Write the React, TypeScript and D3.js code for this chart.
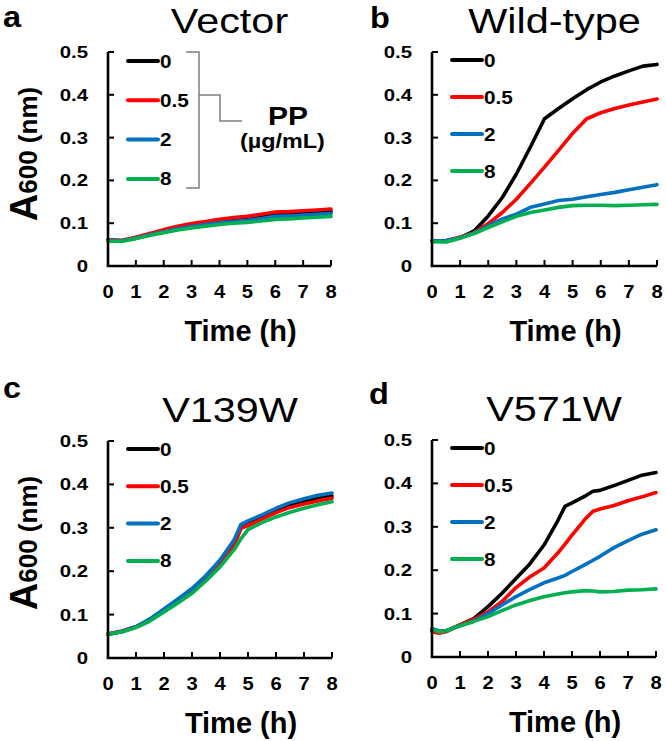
import React from "react";
import * as d3 from "d3";

// ---------- data ----------
const TIME_HALF = [0, 0.5, 1, 1.5, 2, 2.5, 3, 3.5, 4, 4.5, 5, 5.5, 6, 6.5, 7, 7.5, 8];
const TIME_C = [0, 0.5, 1, 1.5, 2, 2.5, 3, 3.5, 4, 4.5, 4.75, 5, 5.5, 6, 6.5, 7, 7.5, 8];
const TIME_D = [0, 0.25, 0.5, 1, 1.5, 2, 2.5, 3, 3.5, 4, 4.5, 4.75, 5, 5.5, 5.75, 6, 6.5, 7, 7.5, 8];

const DOSES = ["0", "0.5", "2", "8"];
const DOSE_COLORS = ["#000000", "#ff0000", "#0070c0", "#00b050"];

const PANEL_LETTERS = ["a", "b", "c", "d"];
const PANEL_TITLES = ["Vector", "Wild-type", "V139W", "V571W"];

const X_TICKS = [0, 1, 2, 3, 4, 5, 6, 7, 8];
const Y_TICKS = [0, 0.1, 0.2, 0.3, 0.4, 0.5];
const Y_TICK_LABELS = ["0", "0.1", "0.2", "0.3", "0.4", "0.5"];

// Panel a: Vector
const VECTOR_0 = [0.061, 0.059, 0.066, 0.074, 0.082, 0.089, 0.094, 0.1, 0.104, 0.107, 0.111, 0.115, 0.121, 0.122, 0.124, 0.125, 0.127];
const VECTOR_05 = [0.061, 0.06, 0.067, 0.076, 0.085, 0.093, 0.099, 0.104, 0.109, 0.113, 0.116, 0.121, 0.126, 0.127, 0.129, 0.131, 0.133];
const VECTOR_2 = [0.06, 0.059, 0.065, 0.073, 0.08, 0.087, 0.092, 0.097, 0.101, 0.104, 0.107, 0.111, 0.116, 0.117, 0.119, 0.121, 0.123];
const VECTOR_8 = [0.058, 0.058, 0.064, 0.071, 0.078, 0.084, 0.089, 0.093, 0.097, 0.1, 0.102, 0.105, 0.109, 0.11, 0.112, 0.114, 0.116];

// Panel b: Wild-type
const WT_0 = [0.059, 0.059, 0.066, 0.082, 0.117, 0.16, 0.215, 0.278, 0.344, 0.368, 0.391, 0.412, 0.43, 0.444, 0.456, 0.467, 0.471];
const WT_05 = [0.059, 0.059, 0.068, 0.078, 0.099, 0.125, 0.156, 0.193, 0.231, 0.27, 0.31, 0.344, 0.358, 0.368, 0.376, 0.383, 0.39];
const WT_2 = [0.059, 0.059, 0.066, 0.077, 0.094, 0.11, 0.121, 0.137, 0.145, 0.153, 0.156, 0.162, 0.167, 0.172, 0.178, 0.184, 0.19];
const WT_8 = [0.057, 0.056, 0.065, 0.076, 0.09, 0.103, 0.116, 0.125, 0.131, 0.137, 0.141, 0.142, 0.142, 0.141, 0.142, 0.143, 0.144];

// Panel c: V139W
const V139_0 = [0.055, 0.061, 0.072, 0.089, 0.112, 0.134, 0.157, 0.187, 0.222, 0.266, 0.306, 0.314, 0.327, 0.341, 0.353, 0.36, 0.368, 0.373];
const V139_05 = [0.055, 0.062, 0.072, 0.088, 0.11, 0.132, 0.155, 0.183, 0.216, 0.258, 0.299, 0.305, 0.32, 0.335, 0.347, 0.355, 0.362, 0.368];
const V139_2 = [0.055, 0.061, 0.072, 0.09, 0.113, 0.136, 0.16, 0.19, 0.226, 0.272, 0.308, 0.316, 0.33, 0.345, 0.358, 0.367, 0.375, 0.38];
const V139_8 = [0.055, 0.06, 0.07, 0.085, 0.106, 0.127, 0.149, 0.178, 0.21, 0.249, 0.275, 0.296, 0.312, 0.325, 0.336, 0.345, 0.353, 0.36];

// Panel d: V571W
const V571_0 = [0.062, 0.058, 0.06, 0.074, 0.089, 0.116, 0.147, 0.181, 0.215, 0.258, 0.315, 0.347, 0.355, 0.372, 0.382, 0.384, 0.395, 0.407, 0.419, 0.425];
const V571_05 = [0.058, 0.055, 0.058, 0.074, 0.087, 0.104, 0.128, 0.16, 0.185, 0.205, 0.24, 0.26, 0.281, 0.32, 0.336, 0.341, 0.349, 0.36, 0.369, 0.379];
const V571_2 = [0.066, 0.06, 0.06, 0.072, 0.083, 0.1, 0.12, 0.139, 0.156, 0.171, 0.182, 0.188, 0.197, 0.214, 0.223, 0.232, 0.252, 0.268, 0.283, 0.293];
const V571_8 = [0.064, 0.058, 0.06, 0.072, 0.082, 0.093, 0.107, 0.12, 0.13, 0.139, 0.145, 0.148, 0.15, 0.153, 0.152, 0.15, 0.151, 0.154, 0.155, 0.157];

const PANEL_TIMES = [TIME_HALF, TIME_HALF, TIME_C, TIME_D];
const PANEL_SERIES = [
  [VECTOR_0, VECTOR_05, VECTOR_2, VECTOR_8],
  [WT_0, WT_05, WT_2, WT_8],
  [V139_0, V139_05, V139_2, V139_8],
  [V571_0, V571_05, V571_2, V571_8],
];

// ---------- layout ----------
const W = 666;
const H = 741;
const FONT = "'Liberation Sans', Arial, Helvetica, sans-serif";

const LAYOUT = [
  { x0: 108, x1: 331, yTop: 52, yBot: 266, legendStep: 39.3, legendOff: 9, yLabel: true },
  { x0: 432, x1: 657, yTop: 52, yBot: 266, legendStep: 37, legendOff: 8, yLabel: false },
  { x0: 108, x1: 332, yTop: 441, yBot: 658, legendStep: 37.3, legendOff: 8, yLabel: true },
  { x0: 432, x1: 656, yTop: 440, yBot: 657, legendStep: 37, legendOff: 8, yLabel: false },
];
const LETTER_POS = [
  { x: 3, y: 26.5 },
  { x: 370, y: 28 },
  { x: 3, y: 398 },
  { x: 369, y: 404 },
];

function SText(props: {
  x: number; y: number; sx?: number; size: number; weight?: string | number;
  anchor?: "start" | "middle" | "end"; fill?: string; children: React.ReactNode;
}) {
  const { x, y, sx = 1, size, weight = "bold", anchor = "start", fill = "#000", children } = props;
  return (
    <text
      transform={`translate(${x},${y}) scale(${sx},1)`}
      fontSize={size}
      fontWeight={weight}
      textAnchor={anchor}
      fill={fill}
      fontFamily={FONT}
    >
      {children}
    </text>
  );
}

function Panel({ idx }: { idx: number }) {
  const L = LAYOUT[idx];
  const times = PANEL_TIMES[idx];
  const series = PANEL_SERIES[idx];
  const x = d3.scaleLinear().domain([0, 8]).range([L.x0, L.x1]);
  const y = d3.scaleLinear().domain([0, 0.5]).range([L.yBot, L.yTop]);
  const line = d3
    .line<number>()
    .x((_, i) => x(times[i]))
    .y((v) => y(v));
  const cx = (L.x0 + L.x1) / 2;
  const tickLen = 6;
  return (
    <g>
      {/* panel letter */}
      <SText x={LETTER_POS[idx].x} y={LETTER_POS[idx].y} size={29} sx={1.12}>
        {PANEL_LETTERS[idx]}
      </SText>
      {/* title */}
      <SText x={cx + 10} y={L.yTop - 19} size={36} sx={1.15} weight="normal" anchor="middle">
        {PANEL_TITLES[idx]}
      </SText>

      {/* data lines */}
      {series.map((s, i) => (
        <path
          key={i}
          d={line(s) || ""}
          fill="none"
          stroke={DOSE_COLORS[i]}
          strokeWidth={3.6}
          strokeLinejoin="round"
          strokeLinecap="round"
        />
      ))}

      {/* axes */}
      <line x1={L.x0} x2={L.x0} y1={y(0.5)} y2={y(0)} stroke="#000" strokeWidth={2.6} />
      <line x1={L.x0 - 1.3} x2={x(8)} y1={y(0)} y2={y(0)} stroke="#000" strokeWidth={2.6} />
      {Y_TICKS.map((t) => (
        <line key={"yt" + t} x1={L.x0} x2={L.x0 + tickLen} y1={y(t)} y2={y(t)} stroke="#000" strokeWidth={2} />
      ))}
      {X_TICKS.map((t) => (
        <line key={"xt" + t} x1={x(t)} x2={x(t)} y1={y(0)} y2={y(0) - tickLen} stroke="#000" strokeWidth={2} />
      ))}
      {Y_TICKS.map((t, i) => (
        <SText key={"yl" + t} x={L.x0 - 20} y={y(t) + 6} size={17} sx={1.2} anchor="end">
          {Y_TICK_LABELS[i]}
        </SText>
      ))}
      {X_TICKS.map((t) => (
        <SText key={"xl" + t} x={x(t)} y={y(0) + 32} size={18} sx={1.12} anchor="middle">
          {String(t)}
        </SText>
      ))}
      <SText x={cx + 21} y={y(0) + 75} size={29} anchor="middle">
        Time (h)
      </SText>

      {L.yLabel && (
        <text
          transform={`translate(${L.x0 - 71},${L.yTop + 102}) rotate(-90)`}
          textAnchor="middle"
          fontFamily={FONT}
          fontWeight="bold"
          fill="#000"
        >
          <tspan fontSize={38}>A</tspan>
          <tspan fontSize={26}>600 (nm)</tspan>
        </text>
      )}

      {/* legend */}
      {DOSES.map((d, i) => {
        const ly = L.yTop + L.legendOff + i * L.legendStep;
        return (
          <g key={"lg" + d}>
            <line x1={L.x0 + 20} x2={L.x0 + 50} y1={ly} y2={ly} stroke={DOSE_COLORS[i]} strokeWidth={4} strokeLinecap="round" />
            <SText x={L.x0 + 52} y={ly + 6.5} size={18} sx={1.15}>
              {d}
            </SText>
          </g>
        );
      })}
    </g>
  );
}

export default function App() {
  React.useEffect(() => {
    document.body.style.margin = "0";
  }, []);
  // PP bracket for panel a
  const La = LAYOUT[0];
  const ya = d3.scaleLinear().domain([0, 0.5]).range([La.yBot, La.yTop]);
  const bx = 199;
  const bTop = ya(0.5);
  const bBot = 188;
  const bMid = 95;
  return (
    <svg width={W} height={H} style={{ position: "absolute", left: 0, top: 0, background: "#fff" }}>
      <rect width={W} height={H} fill="#fff" />
      {[0, 1, 2, 3].map((i) => (
        <Panel key={i} idx={i} />
      ))}
      <path
        d={`M${bx - 13},${bTop} H${bx} V${bBot} H${bx - 13} M${bx},${bMid} H${bx + 21} V${bMid + 26} H${bx + 43}`}
        fill="none"
        stroke="#7f7f7f"
        strokeWidth={1.5}
      />
      <SText x={268} y={125} size={25} sx={1.2}>
        PP
      </SText>
      <SText x={240} y={148} size={19.5} sx={1.2}>
        (µg/mL)
      </SText>
    </svg>
  );
}
